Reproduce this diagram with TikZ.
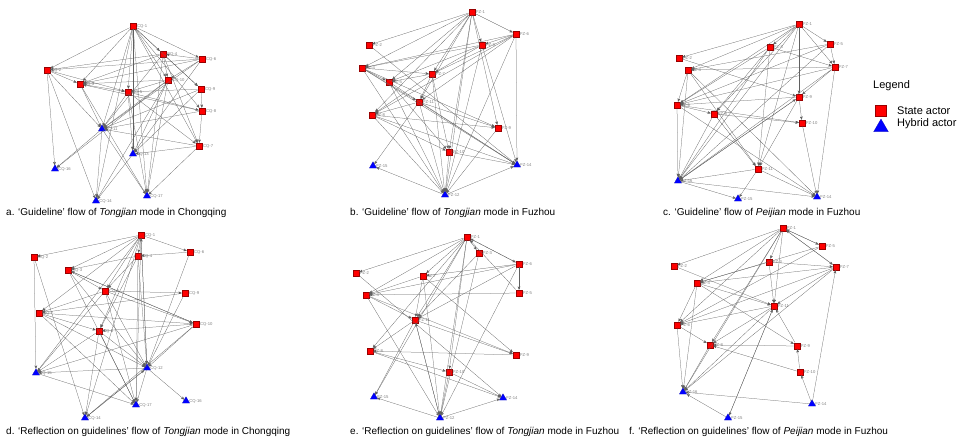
\documentclass[tikz,border=0pt]{standalone}
\usepackage{fontspec}
\setmainfont{Liberation Sans}
\usetikzlibrary{arrows,shapes.geometric,positioning}
\tikzset{
	state/.style={rectangle, fill=red, draw=red!60!black, line width=0.2pt, minimum size=6.5pt, inner sep=0pt},
	hybrid/.style={regular polygon, regular polygon sides=3, fill=blue, draw=blue!70!black, line width=0.2pt, minimum size=8.5pt, inner sep=0pt},
	lab/.style={font=\fontsize{4.2}{5}\selectfont, text=gray, inner sep=0.6pt},
	flow/.style={->, >=stealth', draw=gray!75!black, line width=0.25pt},
	captext/.style={anchor=base west, font=\fontsize{10}{12}\selectfont, inner sep=0pt},
	key/.style={anchor=west, font=\fontsize{11}{13}\selectfont, inner sep=0pt},
}

\begin{document}
\begin{tikzpicture}[x=1pt, y=-1pt]
	\useasboundingbox (0,0) rectangle (964,438);

	% a. Guideline, Tongjian, Chongqing
	\foreach \n/\p in {1/{133,26}, 4/{163,54}, 6/{202,59}, 2/{47,70}, 3/{80,84}, 10/{168,80}, 9/{201,89}, 5/{128,92}, 8/{202,111}, 7/{199,146}}
		\node[state, label={[lab]right:CQ-\n}] (a-\n) at (\p) {};
	\foreach \n/\p in {11/{102,129}, 13/{133,154}, 16/{55,169}, 14/{96,201}, 17/{147,196}}
		\node[hybrid, label={[lab]right:CQ-\n}] (a-\n) at (\p) {};
	\foreach \s/\t in {1/4,1/6,1/2,1/3,1/5,1/10,1/9,1/8,1/7,1/11,1/13,1/17,1/14,
			6/4,6/2,6/3,6/10,6/11,6/13,4/2,4/3,4/10,4/9,4/7,4/11,4/17,
			10/3,10/5,10/11,10/13,10/16,10/14,10/17,9/5,9/8,9/11,9/13,
			8/7,8/11,8/3,5/8,5/7,5/11,5/13,5/17,2/3,2/5,2/16,2/14,2/11,
			3/11,3/17,3/5,7/11,7/13,7/17,13/14,11/16,11/17,11/14}
		\draw[flow] (a-\s) -- (a-\t);
	\node[captext] (capa) at (6,216) {a. ‘Guideline’ flow of \textit{Tongjian} mode in Chongqing};

	% b. Guideline, Tongjian, Fuzhou
	\foreach \n/\p in {1/{472,12}, 6/{516,34}, 2/{369,45}, 3/{482,45}, 4/{362,68}, 7/{432,74}, 5/{389,82}, 11/{419,102}, 8/{372,115}, 9/{498,128}, 10/{449,152}}
		\node[state, label={[lab]right:FZ-\n}] (b-\n) at (\p) {};
	\foreach \n/\p in {15/{373,166}, 14/{517,165}, 12/{445,195}}
		\node[hybrid, label={[lab]right:FZ-\n}] (b-\n) at (\p) {};
	\foreach \s/\t in {1/6,1/2,1/4,1/5,1/7,1/3,1/11,1/8,1/12,1/10,1/9,
			6/3,6/4,6/7,6/14,6/12,6/11,6/8,3/4,3/7,3/5,3/12,3/14,2/14,
			4/5,4/7,4/11,4/12,4/9,4/14,7/5,7/11,7/12,7/8,7/10,5/12,5/10,5/14,
			11/15,11/9,11/12,11/14,11/8,8/9,8/10,8/14,8/12,9/12,10/14,10/12,
			12/15,12/14}
		\draw[flow] (b-\s) -- (b-\t);
	\node[captext] (capb) at (350,216) {b. ‘Guideline’ flow of \textit{Tongjian} mode in Fuzhou};

	% c. Guideline, Peijian, Fuzhou
	\foreach \n/\p in {1/{799,24}, 5/{830,44}, 3/{770,47}, 2/{679,58}, 7/{835,67}, 4/{688,70}, 9/{799,97}, 6/{677,105}, 8/{714,114}, 10/{802,123}, 11/{758,169}}
		\node[state, label={[lab]right:FZ-\n}] (c-\n) at (\p) {};
	\foreach \n/\p in {16/{678,181}, 15/{738,199}, 14/{817,197}}
		\node[hybrid, label={[lab]right:FZ-\n}] (c-\n) at (\p) {};
	\foreach \s/\t in {1/5,1/3,1/2,1/4,1/7,1/6,1/11,1/16,1/9,1/8,
			5/7,5/4,5/6,5/16,3/7,3/8,3/11,3/16,3/6,7/4,7/6,7/16,7/14,7/9,2/9,
			4/6,4/16,4/11,4/14,9/10,9/6,9/16,9/11,6/8,6/16,6/10,6/14,
			8/10,8/11,8/16,10/14,11/16,11/15,11/14,16/14,16/15,16/9}
		\draw[flow] (c-\s) -- (c-\t);
	\node[captext] (capc) at (663,216) {c. ‘Guideline’ flow of \textit{Peijian} mode in Fuzhou};

	% d. Reflection, Tongjian, Chongqing
	\foreach \n/\p in {1/{141,235}, 6/{190,252}, 4/{138,256}, 2/{34,257}, 3/{68,270}, 5/{105,291}, 9/{185,293}, 7/{39,313}, 10/{196,324}, 8/{99,331}}
		\node[state, label={[lab]right:CQ-\n}] (d-\n) at (\p) {};
	\foreach \n/\p in {15/{36,373}, 12/{147,368}, 17/{136,405}, 16/{186,401}, 14/{85,418}}
		\node[hybrid, label={[lab]right:CQ-\n}] (d-\n) at (\p) {};
	\foreach \s/\t in {1/2,1/4,1/6,1/3,1/5,1/7,1/8,1/12,1/14,1/15,1/17,
			6/4,6/12,4/3,4/5,4/12,4/17,4/8,2/15,2/14,3/5,3/12,3/10,3/17,
			5/9,5/7,5/12,5/15,5/10,5/17,9/7,9/12,7/10,7/12,7/17,7/8,
			10/8,10/15,10/12,10/14,10/3,8/12,8/17,8/14,8/15,
			12/15,12/16,12/17,12/14,12/1,15/17,14/12}
		\draw[flow] (d-\s) -- (d-\t);
	\node[captext] (capd) at (6,434) {d. ‘Reflection on guidelines’ flow of \textit{Tongjian} mode in Chongqing};

	% e. Reflection, Tongjian, Fuzhou
	\foreach \n/\p in {1/{467,237}, 3/{479,253}, 6/{519,264}, 2/{356,273}, 7/{423,276}, 5/{519,293}, 4/{366,295}, 11/{415,320}, 8/{370,351}, 9/{516,355}, 10/{449,372}}
		\node[state, label={[lab]right:FZ-\n}] (e-\n) at (\p) {};
	\foreach \n/\p in {15/{374,397}, 14/{503,398}, 12/{440,418}}
		\node[hybrid, label={[lab]right:FZ-\n}] (e-\n) at (\p) {};
	\foreach \s/\t in {1/2,1/3,1/6,1/7,1/4,1/11,1/8,1/12,1/10,1/15,
			3/12,3/11,6/7,6/4,6/5,6/11,6/12,6/1,5/4,5/1,2/14,
			7/4,7/12,7/9,7/11,4/11,4/12,4/9,11/8,11/9,11/15,11/12,
			8/14,8/10,9/8,10/12,10/14,12/15,12/14,12/11}
		\draw[flow] (e-\s) -- (e-\t);
	\node[captext] (cape) at (350,434) {e. ‘Reflection on guidelines’ flow of \textit{Tongjian} mode in Fuzhou};

	% f. Reflection, Peijian, Fuzhou
	\foreach \n/\p in {1/{783,228}, 5/{822,246}, 3/{769,262}, 2/{674,266}, 7/{836,267}, 4/{697,283}, 11/{774,306}, 6/{677,325}, 8/{710,345}, 9/{797,346}, 10/{800,372}}
		\node[state, label={[lab]right:FZ-\n}] (f-\n) at (\p) {};
	\foreach \n/\p in {16/{683,392}, 14/{812,404}, 15/{728,418}}
		\node[hybrid, label={[lab]right:FZ-\n}] (f-\n) at (\p) {};
	\foreach \s/\t in {1/2,1/5,1/3,1/7,1/4,1/6,1/11,1/8,1/16,
			5/1,5/4,5/6,3/11,3/4,3/7,7/1,7/4,7/6,7/16,7/11,2/11,
			4/6,4/9,4/11,4/16,11/6,11/8,11/16,11/15,6/8,6/16,
			9/8,10/8,9/11,10/9,14/10,14/7,14/16,8/16,15/16,15/11}
		\draw[flow] (f-\s) -- (f-\t);
	\node[captext] (capf) at (629,434) {f. ‘Reflection on guidelines’ flow of \textit{Peijian} mode in Fuzhou};

	% legend
	\node[key] (legend) at (873,86) {Legend};
	\node[state, minimum size=11pt] (keystate) at (881,111) {};
	\node[hybrid, minimum size=17pt] (keyhybrid) at (881,127.5) {};
	\node[key, right=16pt of keystate.center] (statetxt) {State actor};
	\node[key] (hybridtxt) at (897,123.5) {Hybrid actor};
\end{tikzpicture}
\end{document}
